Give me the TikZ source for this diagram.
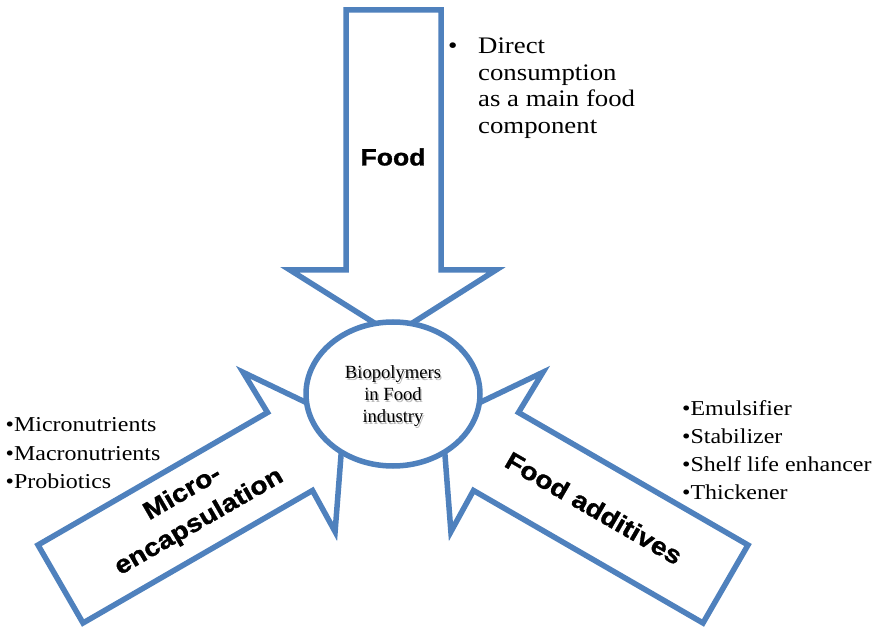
\documentclass[tikz,border=0pt]{standalone}
\usepackage{fontspec}
\setmainfont{Liberation Serif}
\newfontfamily\listfont[FakeStretch=1.13]{Liberation Serif}
\newfontfamily\labelfont[FakeStretch=1.13, BoldFeatures={FakeBold=1.2}]{Liberation Sans}
\usetikzlibrary{shapes.geometric}
\definecolor{arrowblue}{RGB}{79,129,189}
% text with a soft grey drop shadow behind it
\newcommand\softshadow[1]{\makebox[0pt][l]{\hspace{1.3pt}\raisebox{-1.3pt}{\textcolor{black!28}{#1}}}#1}

\begin{document}
\begin{tikzpicture}[x=1pt,y=-1pt,
  blockarrow/.style={draw=arrowblue, line width=5.5pt, fill=white, line join=miter},
  hubshape/.style={ellipse, draw=arrowblue, line width=5.5pt, fill=white,
    minimum width=174pt, minimum height=144pt, inner sep=0},
  hubtext/.style={align=center, inner sep=0, font=\fontsize{18.6}{22}\selectfont},
  arrowlabel/.style={align=center, inner sep=0,
    font=\labelfont\bfseries\fontsize{25}{33}\selectfont},
  toplabel/.style={inner sep=0, font=\labelfont\bfseries\fontsize{23.5}{28}\selectfont},
  listtext/.style={align=left, inner sep=0, font=\listfont\fontsize{21.2}{28.3}\selectfont},
  notetext/.style={align=left, inner sep=0, font=\listfont\fontsize{23.7}{26.5}\selectfont}]
\useasboundingbox (0,0) rectangle (884,628);

% three block arrows pointing at the hub
\draw[blockarrow] (346,10) -- (441,10) -- (441,270) -- (496,270) -- (393.5,335)
  -- (290,270) -- (346,270) -- cycle;
\draw[blockarrow] (38,545) -- (267.5,412.5) -- (243.1,372.3) -- (343.7,420.5)
  -- (335.1,531.7) -- (312.5,490.5) -- (83,623) -- cycle;
\draw[blockarrow] (748,545) -- (518.5,412.5) -- (542.9,372.3) -- (442.3,420.5)
  -- (450.9,531.7) -- (473.5,490.5) -- (703,623) -- cycle;

% central hub
\node[hubshape] (hub) at (393,394) {};
\node[hubtext] (hublabel) at (393,397)
  {\softshadow{Biopolymers}\\\softshadow{in Food}\\\softshadow{industry}};

% arrow labels
\node[toplabel] (foodlabel) at (393,157) {Food};
\node[arrowlabel, rotate=30] (microlabel) at (191,508) {Micro-\\encapsulation};
\node[arrowlabel, rotate=-30] (additiveslabel) at (594,508) {Food additives};

% notes beside the arrows (multi-line nodes sit on the baseline of their last line)
\node[notetext, anchor=base west] (notebullet) at (448,54) {•};
\node[notetext, anchor=base west] (foodnote) at (478,133.5)
  {Direct\\consumption\\as a main food\\component};
\node[listtext, anchor=base west] (microlist) at (5.5,488.3)
  {•Micronutrients\\•Macronutrients\\•Probiotics};
\node[listtext, anchor=base west] (additivelist) at (682,499.9)
  {•Emulsifier\\•Stabilizer\\•Shelf life enhancer\\•Thickener};
\end{tikzpicture}
\end{document}
